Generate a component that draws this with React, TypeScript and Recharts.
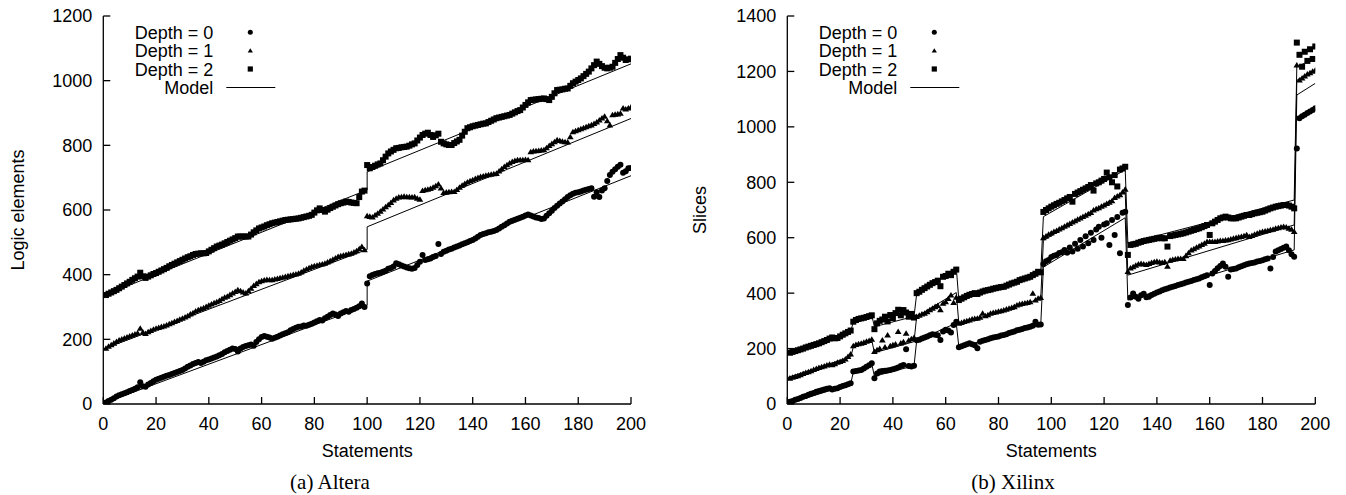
import React from 'react';
import { ScatterChart, Scatter, XAxis, YAxis } from 'recharts';

// ---------- tick labels ----------
const xTicks = [0, 20, 40, 60, 80, 100, 120, 140, 160, 180, 200];
const alteraYTicks = [0, 200, 400, 600, 800, 1000, 1200];
const xilinxYTicks = [0, 200, 400, 600, 800, 1000, 1200, 1400];

// ---------- Altera (statements 1..200) ----------
const alteraDepth0 = [
  5, 9, 13, 18, 23, 27, 30, 33, 36, 40,
  43, 47, 52, 67, 55, 53, 60, 65, 70, 75,
  78, 81, 84, 87, 90, 93, 96, 99, 102, 105,
  110, 115, 119, 124, 127, 130, 127, 131, 135, 138,
  141, 144, 147, 151, 155, 160, 164, 168, 172, 170,
  162, 172, 176, 179, 182, 184, 180, 192, 200, 207,
  210, 208, 206, 202, 205, 208, 212, 216, 219, 222,
  228, 232, 236, 239, 240, 243, 242, 245, 248, 252,
  256, 260, 258, 265, 270, 275, 280, 277, 272, 280,
  284, 288, 285, 291, 294, 298, 302, 311, 300, 373,
  395, 399, 402, 404, 406, 409, 412, 418, 421, 425,
  435, 432, 428, 425, 422, 420, 418, 421, 430, 440,
  461, 445, 448, 450, 455, 458, 495, 464, 471, 474,
  478, 480, 484, 487, 490, 494, 497, 500, 504, 507,
  512, 517, 523, 526, 528, 531, 533, 535, 538, 543,
  548, 553, 558, 564, 567, 570, 573, 576, 579, 583,
  586, 583, 580, 577, 575, 572, 574, 582, 590, 598,
  606, 613, 620, 626, 633, 640, 646, 650, 653, 655,
  657, 660, 663, 665, 667, 641, 655, 640, 660, 667,
  690, 708, 718, 726, 734, 740, 715, 720, 729, 730,
];
const alteraDepth1 = [
  172, 178, 183, 188, 193, 198, 201, 204, 207, 210,
  213, 216, 219, 234, 222, 218, 223, 227, 231, 234,
  236, 239, 241, 244, 248, 251, 255, 258, 262, 265,
  269, 273, 278, 282, 287, 291, 294, 297, 301, 305,
  309, 313, 316, 320, 325, 330, 333, 338, 343, 348,
  353, 350, 346, 343, 350, 358, 366, 372, 378, 381,
  383, 385, 384, 384, 386, 388, 390, 392, 394, 396,
  398, 400, 402, 404, 408, 413, 417, 421, 425, 427,
  429, 431, 433, 435, 439, 443, 447, 451, 456, 458,
  460, 462, 464, 466, 470, 474, 480, 487, 477, 582,
  580, 578, 584, 590, 596, 603, 610, 616, 623, 631,
  636, 640, 641, 642, 641, 641, 640, 641, 636, 633,
  660, 662, 664, 666, 670, 675, 680, 668, 654, 655,
  656, 657, 657, 663, 670, 676, 682, 686, 690, 693,
  697, 700, 703, 705, 707, 709, 710, 712, 713, 720,
  727, 734, 740, 745, 750, 753, 755, 755, 755, 756,
  755, 780, 782, 783, 784, 785, 786, 792, 799, 805,
  811, 817, 815, 812, 811, 810, 826, 842, 845, 848,
  851, 854, 857, 860, 863, 867, 872, 878, 884, 890,
  876, 863, 894, 896, 897, 899, 915, 912, 915, 918,
];
const alteraDepth2 = [
  337, 341, 345, 349, 353, 358, 363, 368, 373, 378,
  384, 389, 394, 406, 395, 390, 394, 398, 402, 405,
  409, 413, 417, 421, 426, 430, 434, 438, 442, 446,
  450, 454, 457, 461, 464, 465, 466, 466, 467, 472,
  477, 482, 487, 490, 493, 497, 501, 505, 509, 513,
  518, 518, 518, 518, 518, 524, 531, 537, 543, 546,
  549, 553, 556, 559, 561, 563, 565, 567, 569, 570,
  571, 572, 573, 574, 576, 578, 580, 582, 585, 592,
  599, 605, 600, 595, 601, 606, 610, 614, 618, 621,
  623, 626, 625, 623, 622, 621, 640, 657, 660, 739,
  729, 733, 737, 741, 744, 754, 765, 775, 781, 786,
  791, 792, 794, 795, 796, 799, 803, 806, 815, 824,
  832, 836, 839, 832, 826, 831, 836, 811, 806, 803,
  801, 801, 807, 812, 817, 830, 842, 853, 856, 859,
  861, 863, 865, 867, 868, 872, 876, 880, 884, 886,
  888, 890, 892, 894, 898, 902, 906, 909, 917, 925,
  933, 940, 941, 942, 943, 944, 945, 943, 940, 950,
  961, 971, 972, 973, 975, 976, 984, 992, 997, 1002,
  1007, 1014, 1021, 1028, 1038, 1048, 1059, 1052, 1045, 1040,
  1038, 1040, 1043, 1055, 1067, 1079, 1071, 1064, 1066, 1068,
];
const alteraModel0 = [[0, 2], [100, 305], [100, 380], [200, 706]];
const alteraModel1 = [[0, 170], [100, 478], [100, 548], [200, 883]];
const alteraModel2 = [[0, 335], [100, 662], [100, 718], [200, 1052]];

// ---------- Xilinx (statements 1..200) ----------
const xilinxDepth0 = [
  8, 11, 15, 18, 22, 26, 29, 33, 37, 40,
  44, 47, 50, 52, 55, 57, 52, 55, 57, 61,
  65, 68, 71, 75, 117, 119, 121, 123, 128, 134,
  140, 147, 93, 110, 117, 119, 120, 121, 123, 125,
  128, 132, 137, 141, 198, 137, 135, 138, 230, 232,
  236, 240, 244, 248, 252, 250, 248, 231, 262, 268,
  265, 258, 285, 297, 205, 208, 212, 216, 219, 216,
  212, 201, 225, 228, 231, 234, 237, 240, 242, 244,
  247, 249, 252, 256, 259, 262, 266, 268, 271, 274,
  276, 279, 282, 297, 286, 287, 505, 515, 520, 530,
  535, 538, 545, 548, 556, 546, 565, 550, 578, 560,
  592, 568, 605, 580, 618, 592, 630, 640, 600, 648,
  652, 574, 664, 610, 675, 544, 690, 694, 357, 384,
  399, 387, 380, 392, 398, 385, 387, 393, 398, 402,
  406, 410, 414, 417, 420, 423, 426, 429, 432, 435,
  438, 441, 444, 447, 450, 453, 457, 461, 465, 429,
  471, 480, 490, 498, 507, 495, 459, 485, 487, 489,
  493, 497, 501, 504, 507, 509, 511, 514, 516, 519,
  522, 525, 489, 530, 550, 555, 559, 564, 568, 555,
  540, 531, 922, 1031, 1038, 1044, 1050, 1055, 1061, 1067,
];
const xilinxDepth1 = [
  93, 96, 99, 102, 105, 110, 113, 116, 120, 124,
  128, 131, 134, 137, 140, 143, 141, 145, 150, 153,
  157, 162, 171, 180, 210, 214, 217, 219, 222, 226,
  229, 233, 189, 195, 200, 231, 205, 249, 210, 213,
  216, 261, 220, 224, 255, 230, 235, 240, 315, 320,
  324, 327, 333, 340, 345, 351, 355, 340, 363, 369,
  380, 393, 366, 385, 291, 294, 297, 300, 303, 306,
  308, 309, 313, 327, 318, 322, 327, 330, 332, 334,
  336, 339, 342, 345, 348, 351, 357, 360, 362, 364,
  366, 369, 399, 375, 381, 384, 600, 606, 612, 617,
  622, 626, 631, 636, 641, 646, 651, 656, 661, 666,
  671, 676, 681, 686, 691, 700, 704, 708, 713, 718,
  723, 728, 733, 745, 750, 755, 765, 775, 478, 490,
  495, 500, 505, 507, 505, 503, 507, 510, 513, 515,
  512, 510, 513, 497, 518, 521, 523, 525, 525, 525,
  535, 545, 555, 560, 565, 570, 575, 580, 586, 586,
  586, 586, 588, 590, 590, 591, 592, 595, 598, 600,
  602, 604, 607, 610, 604, 608, 612, 616, 619, 622,
  624, 626, 628, 630, 634, 636, 638, 640, 638, 634,
  630, 622, 1223, 1169, 1176, 1183, 1190, 1195, 1200, 1205,
];
const xilinxDepth2 = [
  185, 188, 191, 194, 197, 200, 204, 207, 210, 213,
  216, 219, 223, 227, 231, 236, 240, 237, 238, 244,
  250, 255, 260, 265, 297, 303, 307, 309, 311, 314,
  317, 320, 270, 291, 300, 305, 315, 298, 321, 310,
  328, 340, 320, 339, 330, 315, 325, 312, 400, 405,
  412, 418, 424, 430, 436, 440, 445, 425, 459, 462,
  470, 465, 477, 485, 375, 380, 385, 390, 394, 397,
  400, 397, 402, 406, 409, 411, 413, 416, 418, 420,
  422, 423, 427, 431, 435, 438, 441, 447, 450, 453,
  456, 459, 465, 470, 477, 475, 693, 700, 706, 712,
  717, 722, 726, 731, 736, 742, 747, 730, 758, 763,
  768, 773, 778, 783, 790, 770, 796, 800, 806, 812,
  835, 818, 800, 826, 785, 846, 850, 856, 538, 574,
  576, 578, 582, 585, 588, 590, 592, 594, 596, 598,
  600, 598, 598, 568, 606, 608, 610, 612, 614, 616,
  619, 622, 625, 628, 631, 634, 638, 642, 646, 610,
  652, 658, 664, 670, 673, 676, 673, 670, 670, 670,
  673, 676, 679, 682, 682, 685, 688, 690, 692, 694,
  698, 702, 706, 709, 712, 714, 716, 718, 718, 716,
  712, 706, 1304, 1260, 1217, 1271, 1238, 1280, 1245, 1290,
];
const xilinxModel0 = [[0, 0], [24, 72], [25, 115], [32, 145], [33, 100], [48, 138], [49, 228], [64, 292], [65, 205], [96, 285], [97, 494], [128, 672], [129, 375], [192, 556], [193, 1115], [200, 1157]];
const xilinxModel1 = [[0, 95], [24, 170], [25, 205], [32, 230], [33, 185], [48, 225], [49, 315], [64, 402], [65, 288], [96, 380], [97, 590], [128, 765], [129, 465], [192, 646], [193, 1168], [200, 1205]];
const xilinxModel2 = [[0, 185], [24, 262], [25, 295], [32, 320], [33, 279], [48, 316], [49, 397], [64, 493], [65, 372], [96, 474], [97, 676], [128, 845], [129, 580], [192, 736], [193, 1217], [200, 1247]];

// ---------- helpers ----------
const toPoints = (vals: number[]) => vals.map((v, i) => ({ x: i + 1, y: v }));
const toLine = (pairs: number[][]) => pairs.map(([x, y]) => ({ x, y }));

const FONT = '"Liberation Sans", Arial, Helvetica, sans-serif';
const SERIF = '"Liberation Serif", "Times New Roman", serif';
const tickStyle = { fill: '#000', fontSize: 18, fontFamily: FONT };
const axisStroke = { stroke: '#000', strokeWidth: 1.3 };

const CircleMark = (p: any) => <circle cx={p.cx} cy={p.cy} r={p.r ?? 3} fill="#000" />;
const TriMark = (p: any) => {
  const s = p.s ?? 1.15;
  return (
    <polygon
      points={`${p.cx},${p.cy - 2.7 * s} ${p.cx + 2.9 * s},${p.cy + 2.1 * s} ${p.cx - 2.9 * s},${p.cy + 2.1 * s}`}
      fill="#000"
    />
  );
};
const SquareMark = (p: any) => {
  const h = p.h ?? 3;
  return <rect x={p.cx - h} y={p.cy - h} width={2 * h} height={2 * h} fill="#000" />;
};
const NoMark = () => <g />;

type PanelProps = {
  offsetX: number;
  width: number;
  plotLeft: number;
  plotRight: number;
  yMax: number;
  yTicks: number[];
  d0: number[];
  d1: number[];
  d2: number[];
  m0: number[][];
  m1: number[][];
  m2: number[][];
  yTitle: string;
  yTitleX: number;
  caption: string;
  captionX: number;
};

function Panel(props: PanelProps) {
  const { offsetX, width, plotLeft, plotRight, yMax, yTicks, d0, d1, d2, m0, m1, m2, yTitle, yTitleX, caption, captionX } = props;
  const H = 495;
  const plotCenter = (plotLeft + plotRight) / 2;
  const legTextX = plotLeft + 110;
  const legSymX = plotLeft + 147;
  const lineStyle = { stroke: '#000', strokeWidth: 1 };
  return (
    <div style={{ position: 'absolute', left: offsetX, top: 0, width, height: H }}>
      <ScatterChart width={width} height={H} margin={{ top: 16, right: width - plotRight, bottom: 0, left: 0 }}>
        <XAxis
          xAxisId="b"
          dataKey="x"
          type="number"
          domain={[0, 200]}
          ticks={xTicks}
          orientation="bottom"
          height={91}
          tickSize={-7}
          tickMargin={20}
          tick={tickStyle}
          axisLine={axisStroke}
          tickLine={axisStroke}
          allowDataOverflow
          interval={0}
        />
        <XAxis
          xAxisId="t"
          dataKey="x"
          type="number"
          domain={[0, 200]}
          ticks={xTicks}
          orientation="top"
          height={0}
          tickSize={-7}
          tick={false}
          axisLine={axisStroke}
          tickLine={axisStroke}
          allowDataOverflow
          interval={0}
        />
        <YAxis
          yAxisId="l"
          dataKey="y"
          type="number"
          domain={[0, yMax]}
          ticks={yTicks}
          orientation="left"
          width={plotLeft}
          tickSize={-7}
          tickMargin={18}
          tick={tickStyle}
          axisLine={axisStroke}
          tickLine={axisStroke}
          allowDataOverflow
          interval={0}
        />
        <YAxis
          yAxisId="r"
          dataKey="y"
          type="number"
          domain={[0, yMax]}
          ticks={yTicks}
          orientation="right"
          width={0}
          tickSize={-7}
          tick={false}
          axisLine={axisStroke}
          tickLine={axisStroke}
          allowDataOverflow
          interval={0}
        />
        <Scatter name="Depth = 0" xAxisId="b" yAxisId="l" data={toPoints(d0)} shape={CircleMark} isAnimationActive={false} />
        <Scatter name="Depth = 1" xAxisId="b" yAxisId="l" data={toPoints(d1)} shape={TriMark} isAnimationActive={false} />
        <Scatter name="Depth = 2" xAxisId="b" yAxisId="l" data={toPoints(d2)} shape={SquareMark} isAnimationActive={false} />
        <Scatter name="Model0" xAxisId="b" yAxisId="l" data={toLine(m0)} shape={NoMark} line={lineStyle} isAnimationActive={false} />
        <Scatter name="Model1" xAxisId="b" yAxisId="l" data={toLine(m1)} shape={NoMark} line={lineStyle} isAnimationActive={false} />
        <Scatter name="Model2" xAxisId="b" yAxisId="l" data={toLine(m2)} shape={NoMark} line={lineStyle} isAnimationActive={false} />
      </ScatterChart>
      <svg width={width} height={H} style={{ position: 'absolute', left: 0, top: 0, pointerEvents: 'none' }}>
        <text
          x={yTitleX}
          y={210}
          transform={`rotate(-90 ${yTitleX} 210)`}
          textAnchor="middle"
          dominantBaseline="central"
          fontFamily={FONT}
          fontSize={18}
          fill="#000"
        >
          {yTitle}
        </text>
        <text x={plotCenter} y={457} textAnchor="middle" fontFamily={FONT} fontSize={18} fill="#000">
          Statements
        </text>
        <text x={captionX} y={489} textAnchor="middle" fontFamily={SERIF} fontSize={21} fill="#000">
          {caption}
        </text>
        {/* legend */}
        <text x={legTextX} y={38.5} textAnchor="end" fontFamily={FONT} fontSize={18} fill="#000">Depth = 0</text>
        <text x={legTextX} y={57} textAnchor="end" fontFamily={FONT} fontSize={18} fill="#000">Depth = 1</text>
        <text x={legTextX} y={75.5} textAnchor="end" fontFamily={FONT} fontSize={18} fill="#000">Depth = 2</text>
        <text x={legTextX} y={94} textAnchor="end" fontFamily={FONT} fontSize={18} fill="#000">Model</text>
        <CircleMark cx={legSymX} cy={32.3} r={2.5} />
        <TriMark cx={legSymX} cy={50.7} s={0.9} />
        <SquareMark cx={legSymX} cy={69} h={2.6} />
        <line x1={plotLeft + 123} x2={plotLeft + 172} y1={87.5} y2={87.5} stroke="#000" strokeWidth={1} />
      </svg>
    </div>
  );
}

export default function App() {
  return (
    <div style={{ position: 'absolute', left: 0, top: 0, width: 1346, height: 495, background: '#fff' }}>
      <Panel
        offsetX={0}
        width={673}
        plotLeft={103.3}
        plotRight={631}
        yMax={1200}
        yTicks={alteraYTicks}
        d0={alteraDepth0}
        d1={alteraDepth1}
        d2={alteraDepth2}
        m0={alteraModel0}
        m1={alteraModel1}
        m2={alteraModel2}
        yTitle="Logic elements"
        yTitleX={18}
        caption="(a) Altera"
        captionX={330}
      />
      <Panel
        offsetX={673}
        width={673}
        plotLeft={114.3}
        plotRight={642.3}
        yMax={1400}
        yTicks={xilinxYTicks}
        d0={xilinxDepth0}
        d1={xilinxDepth1}
        d2={xilinxDepth2}
        m0={xilinxModel0}
        m1={xilinxModel1}
        m2={xilinxModel2}
        yTitle="Slices"
        yTitleX={27}
        caption="(b) Xilinx"
        captionX={340}
      />
    </div>
  );
}
